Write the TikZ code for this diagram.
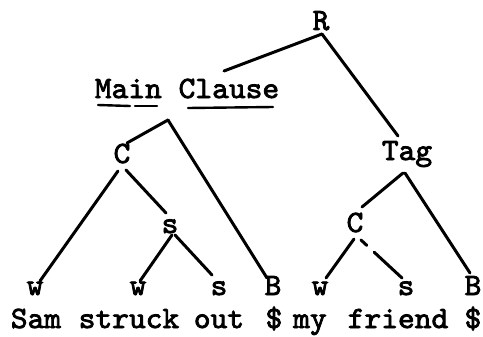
\documentclass[tikz,border=0pt]{standalone}
\usepackage{fontspec}
\setmonofont{lmmono10-regular.otf}[FakeStretch=1.03,FakeBold=2.5]
\usetikzlibrary{calc}

\begin{document}
\begin{tikzpicture}[
  x=0.5pt, y=-0.5pt,
  every node/.style={font=\ttfamily\fontsize{15.5}{18}\selectfont,inner sep=0pt,anchor=base},
  branch/.style={line width=1.5pt,line cap=round},
  uline/.style={line width=1.2pt,line cap=round},
]
\useasboundingbox (0,0) rectangle (483,337);

%% Upper nodes
\node (R)   at (321,30)  {R};
\node (mc)  at (187,98)  {Main Clause};
\node (tag) at (407,160) {Tag};
\node (c1)  at (122,163) {C};
\node (s1)  at (170,233) {s};
\node (c2)  at (355,232) {C};

%% Leaves
\foreach \n/\x/\lbl in {w1/35/w,w2/138/w,s2/219/s,b1/273/B,w3/320/w,s3/406/s,b2/473/B}{
  \node (\n) at (\x,295) {\lbl};
}

%% Words
\foreach \n/\x/\lbl in {sam/36/Sam,struck/129/struck,out/219/out,d1/274/\$,my/310/my,friend/398/friend,d2/473/\$}{
  \node (\n) at (\x,328) {\lbl};
}

%% Underlines
\draw[uline] ($(mc.base)+(-89,7)$) -- ($(mc.base)+(-57,8)$);
\draw[uline] ($(mc.base)+(-52,8)$) -- ($(mc.base)+(-30,8)$);
\draw[uline] ($(mc.base)+(1,10)$) -- ($(mc.base)+(86,9)$);

%% Root
\draw[branch] ($(R.base)+(1,4)$) -- ($(mc.base)+(37,-27)$);
\draw[branch] ($(R.base)+(1,4)$) -- ($(tag.base)+(-9,-24)$);

%% Main clause
\draw[branch] ($(mc.base)+(-19,22)$) -- ($(c1.base)+(5,-20)$);
\draw[branch] ($(mc.base)+(-19,22)$) -- ($(b1.base)+(-6,-17)$);
\draw[branch] ($(c1.base)+(-4,8)$) -- ($(w1.base)+(5,-14)$);
\draw[branch] ($(c1.base)+(4,7)$) -- ($(s1.base)+(-4,-20)$);
\draw[branch] ($(s1.base)+(2,2)$) -- ($(w2.base)+(2,-14)$);
\draw[branch] ($(s1.base)+(5,2)$) -- ($(s2.base)+(-7,-20)$);

%% Tag
\draw[branch] ($(tag.base)+(-4,13)$) -- ($(c2.base)+(7,-25)$);
\draw[branch] ($(tag.base)+(-2,13)$) -- ($(b2.base)+(-3,-22)$);
\draw[branch] ($(c2.base)+(-1,7)$) -- ($(w3.base)+(6,-17)$);
\draw[branch,dash pattern=on 4pt off 5pt on 40pt] ($(c2.base)+(6,8)$) -- ($(s3.base)+(-4,-17)$);

\end{tikzpicture}
\end{document}
